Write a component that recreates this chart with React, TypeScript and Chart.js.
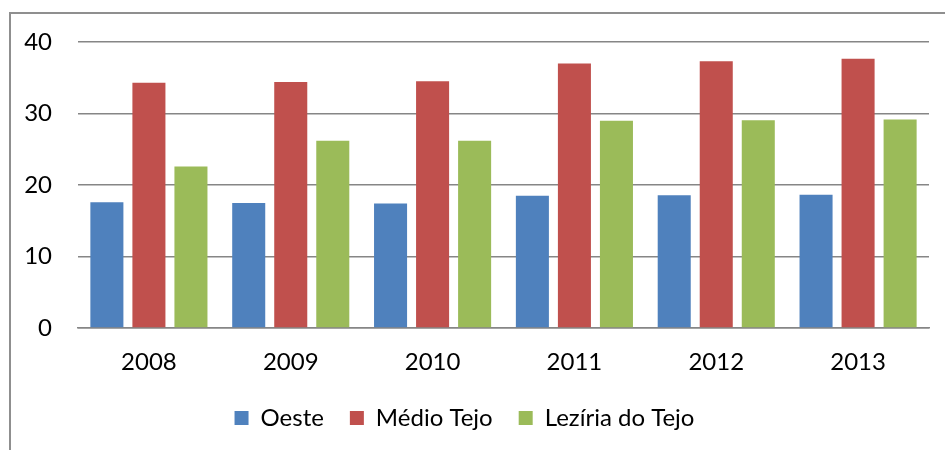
import React, { useEffect, useRef } from "react";
import { Chart, registerables } from "chart.js";

Chart.register(...registerables);

const categories = ["2008", "2009", "2010", "2011", "2012", "2013"];
const seriesNames = ["Oeste", "Médio Tejo", "Lezíria do Tejo"];
const oeste = [17.6, 17.5, 17.4, 18.5, 18.55, 18.65];
const medioTejo = [34.3, 34.4, 34.5, 37.0, 37.3, 37.65];
const leziriaTejo = [22.6, 26.2, 26.2, 29.0, 29.05, 29.15];
const yTicks = [0, 10, 20, 30, 40];

const colors = ["#4F81BD", "#C0504D", "#9BBB59"];
const FONT = "Lato, 'Open Sans', sans-serif";

export default function App() {
  const ref = useRef<HTMLCanvasElement | null>(null);

  useEffect(() => {
    if (!ref.current) return;
    const values = [oeste, medioTejo, leziriaTejo];
    const chart = new Chart(ref.current, {
      type: "bar",
      data: {
        labels: categories,
        datasets: seriesNames.map((name, i) => ({
          label: name,
          data: values[i],
          backgroundColor: colors[i],
          borderWidth: 0,
          categoryPercentage: 0.889,
          barPercentage: 0.786,
        })),
      },
      options: {
        animation: false,
        responsive: false,
        maintainAspectRatio: false,
        layout: { padding: { left: 0, right: 16, top: 42, bottom: 10 } },
        scales: {
          y: {
            min: yTicks[0],
            max: yTicks[yTicks.length - 1],
            afterBuildTicks: (s: any) => {
              s.ticks = yTicks.map((v) => ({ value: v }));
            },
            afterFit: (s: any) => {
              s.width = 78;
            },
            ticks: {
              padding: 26,
              color: "#000",
              font: { family: FONT, size: 24 },
            },
            grid: { color: "#868686", lineWidth: 1.5, drawTicks: false },
            border: { display: false },
          },
          x: {
            afterFit: (s: any) => {
              s.height = 52;
            },
            ticks: {
              padding: 20,
              color: "#000",
              font: { family: FONT, size: 24 },
            },
            grid: { display: false, drawTicks: false },
            border: { display: true, color: "#868686", width: 1.5 },
          },
        },
        plugins: {
          legend: {
            position: "bottom",
            labels: {
              boxWidth: 14,
              boxHeight: 14,
              padding: 26,
              color: "#000",
              font: { family: FONT, size: 24 },
            },
          },
          tooltip: { enabled: false },
        },
      },
    });
    return () => chart.destroy();
  }, []);

  return (
    <>
      <div
        style={{
          position: "fixed",
          left: 9,
          top: 12,
          width: 1000,
          height: 1000,
          border: "2px solid #8f8f8f",
          boxSizing: "border-box",
        }}
      />
      <canvas
        ref={ref}
        width={945}
        height={450}
        style={{ position: "fixed", left: 0, top: 0, width: 945, height: 450 }}
      />
    </>
  );
}
